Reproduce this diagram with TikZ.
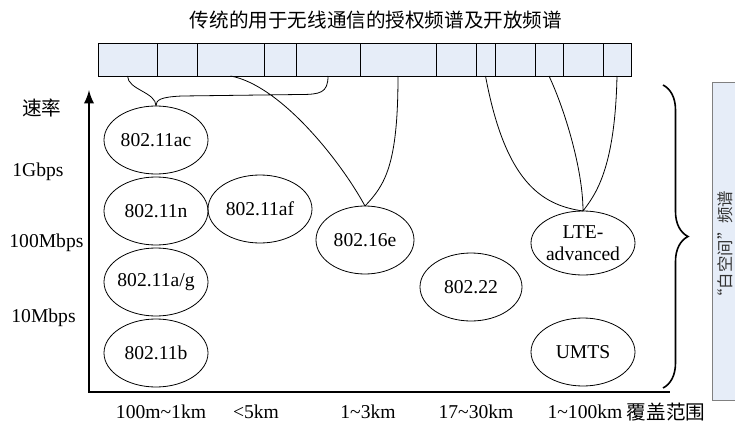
\documentclass[tikz,border=0pt]{standalone}
\usepackage{fontspec}
\setmainfont{Liberation Serif}
\newfontfamily\cjk{Noto Sans CJK SC}
\usetikzlibrary{shapes.geometric,arrows,decorations.pathreplacing}
\definecolor{bandfill}{RGB}{230,237,248}
\definecolor{boxline}{RGB}{128,128,128}
\begin{document}
\begin{tikzpicture}[x=0.5pt,y=-0.5pt,
every node/.append style={font=\fontsize{9.8}{11}\selectfont},
band/.style={draw,fill=bandfill,inner sep=0pt,outer sep=0pt,minimum height=16.5pt},
std/.style={ellipse,draw,inner xsep=-3pt,inner ysep=0pt,outer sep=0pt,minimum width=52pt,minimum height=34pt},
lbl/.style={inner sep=0pt},
axis/.style={line width=1.3pt}]
\useasboundingbox (0,0) rectangle (735,423);
\clip (0,0) rectangle (735,423);
\node[lbl] (title) at (376,20) {\cjk 传统的用于无线通信的授权频谱及开放频谱};
\foreach \xa/\xb [count=\i] in {98/157,157/197,197/264,264/296,296/360,360/436,436/476,476/495,495/535,535/563,563/603,603/631}
  \node[band,minimum width={(\xb-\xa)*0.5pt}] (s\i) at ({(\xa+\xb)/2},59.5) {};
\coordinate (ytop) at (89,90);
\coordinate (xend) at (670,392);
\draw[axis,latex-] (ytop) |- (xend);
\node[lbl] (rate) at (42,108) {\cjk 速率};
\node[lbl,anchor=west] (g1) at (12,172) {1Gbps};
\node[lbl,anchor=west] (m100) at (9,243) {100Mbps};
\node[lbl,anchor=west] (m10) at (11,318) {10Mbps};
\node[std] (ac) at (156,140) {802.11ac};
\node[std] (n) at (156,211) {802.11n};
\node[std] (ag) at (156,282) {802.11a/g};
\node[std] (b) at (156,353) {802.11b};
\node[std] (af) at (260,209) {802.11af};
\node[std,minimum width=49pt] (e16) at (365,240) {802.16e};
\node[std,minimum width=51pt] (wran) at (471,287) {802.22};
\node[std,align=center,minimum height=32pt] (lte) at (583,243) {LTE-\\advanced};
\node[std] (umts) at (583,352) {UMTS};
\node[lbl] (d1) at (161,412) {100m\textasciitilde1km};
\node[lbl] (d2) at (256,412) {<5km};
\node[lbl] (d3) at (368,412) {1\textasciitilde3km};
\node[lbl] (d4) at (476,412) {17\textasciitilde30km};
\node[lbl] (d5) at (585,412) {1\textasciitilde100km};
\node[lbl] (cov) at (666,412) {\cjk 覆盖范围};
\path[draw]
(s1.south) .. controls (128,90) and (156,92) .. (ac.north)
(s5.south) .. controls (328,93) and (320,94.5) .. (300,94.5) -- (182,96) .. controls (160,97) and (156,100) .. (ac.north)
(s3.south) .. controls (280,85) and (340,160) .. (e16.north)
(s6.south) .. controls (398,165) and (385,185) .. (e16.north)
(s8.south) .. controls (505,180) and (540,205) .. (lte.north)
(s10.south) .. controls (565,110) and (583,170) .. (lte.north)
(s12.south) .. controls (615,170) and (595,195) .. (lte.north);
\draw[line width=0.8pt,decorate,decoration={brace,amplitude=12.5pt}] (663,85) -- (663,388);
\draw[boxline,fill=bandfill] (712,82) rectangle (745,400);
\node[lbl,rotate=90,font=\fontsize{8.2}{10}\selectfont,text=black!80] (ws) at (725,248) {\cjk “白空间”频谱};
\end{tikzpicture}
\end{document}
